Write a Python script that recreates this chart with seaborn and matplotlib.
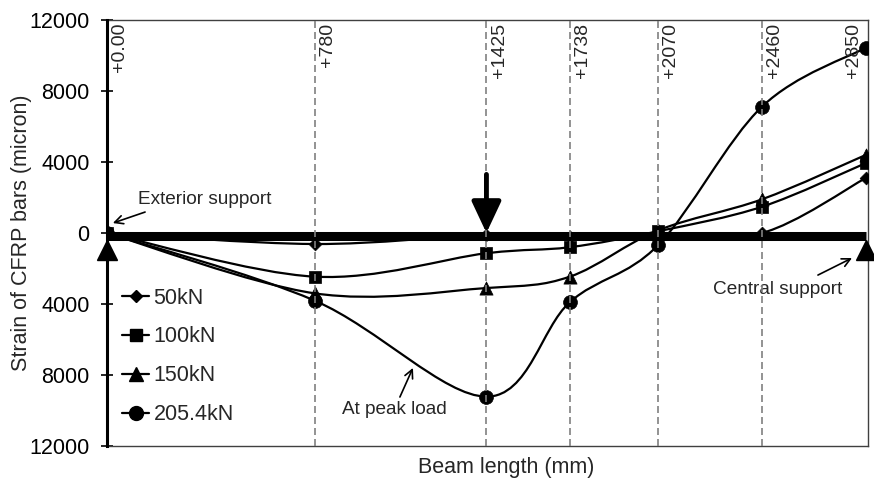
import numpy as np
import pandas as pd
import matplotlib
matplotlib.use("Agg")
import matplotlib.pyplot as plt
import seaborn as sns
from matplotlib.path import Path
from matplotlib.patches import PathPatch
from matplotlib.lines import Line2D
from matplotlib.ticker import FuncFormatter

# ---------------- data ----------------
positions = [0, 780, 1425, 1738, 2070, 2460, 2850]
position_labels = ["+0.00", "+780", "+1425", "+1738", "+2070", "+2460", "+2850"]
load_labels = ["50kN", "100kN", "150kN", "205.4kN"]
strain_50 = [0, -620, -100, -200, 0, 0, 3100]
strain_100 = [0, -2460, -1140, -800, 100, 1480, 3940]
strain_150 = [0, -3400, -3100, -2460, 150, 1900, 4400]
strain_205 = [0, -3810, -9220, -3900, -680, 7120, 10440]
y_ticks = [-12000, -8000, -4000, 0, 4000, 8000, 12000]

series = [strain_50, strain_100, strain_150, strain_205]
df = pd.DataFrame({
    "x": positions * 4,
    "strain": sum(series, []),
    "load": sum([[l] * len(positions) for l in load_labels], []),
})

marker_style = {"50kN": ("D", 6.5), "100kN": ("s", 9), "150kN": ("^", 9.5), "205.4kN": ("o", 10)}

sns.set_theme(style="white")
plt.rcParams["font.family"] = ["Liberation Sans", "DejaVu Sans"]

fig = plt.figure(figsize=(8.74, 4.8), dpi=100)
ax = fig.add_axes([107 / 874, 1 - 446 / 480, 761 / 874, 426 / 480])
ax.set_xlim(0, 2858)
ax.set_ylim(-12000, 12000)


def smooth_path(xs, ys):
    pts = np.column_stack([xs, ys]).astype(float)
    n = len(pts)
    verts = [pts[0]]
    codes = [Path.MOVETO]
    for i in range(n - 1):
        p_prev = pts[i - 1] if i > 0 else pts[i]
        p_next2 = pts[i + 2] if i + 2 < n else pts[i + 1]
        c1 = pts[i] + (pts[i + 1] - p_prev) / 6.0
        c2 = pts[i + 1] - (p_next2 - pts[i]) / 6.0
        verts += [c1, c2, pts[i + 1]]
        codes += [Path.CURVE4] * 3
    return Path(verts, codes)


# smooth curves
for lab in load_labels:
    sub = df[df["load"] == lab]
    patch = PathPatch(smooth_path(sub["x"].values, sub["strain"].values),
                      facecolor="none", edgecolor="black", lw=1.6, zorder=2)
    ax.add_patch(patch)

# beam
ax.plot([0, 2850], [-170, -170], color="black", lw=6.5, solid_capstyle="butt", zorder=3)

# markers
for lab in load_labels:
    m, ms = marker_style[lab]
    sub = df[df["load"] == lab]
    sns.scatterplot(data=sub, x="x", y="strain", marker=m, s=ms ** 2, color="black",
                    edgecolor="black", linewidth=0.5, ax=ax, zorder=5, legend=False)

# supports
ax.plot([0, 2850], [-930, -930], linestyle="none", marker="^", ms=14, color="black",
        clip_on=False, zorder=6)

# vertical dashed section lines and labels
for p, lab in zip(positions, position_labels):
    if 0 < p < 2850:
        ax.axvline(p, color="#808080", lw=1.2, linestyle=(0, (4.2, 2.4)), zorder=7)
    if p < 2850:
        ax.annotate(lab, xy=(p, 12000), xytext=(3, -2), textcoords="offset points",
                    rotation=90, ha="left", va="top", fontsize=14, zorder=8)
    else:
        ax.annotate(lab, xy=(p, 12000), xytext=(-3, -2), textcoords="offset points",
                    rotation=90, ha="right", va="top", fontsize=14, zorder=8)

# load arrow
ax.annotate("", xy=(1425, 0), xytext=(1425, 3300),
            arrowprops=dict(arrowstyle="-|>,head_length=1.6,head_width=0.75",
                            lw=3.5, color="black", shrinkA=0, shrinkB=0), zorder=8)

# annotations
arr = dict(arrowstyle="->,head_length=0.5,head_width=0.25", lw=1.2, color="black",
           shrinkA=0, shrinkB=0)
ax.annotate("", xy=(22, 560), xytext=(143, 1180), arrowprops=arr)
ax.text(116, 1860, "Exterior support", fontsize=13.7, va="center", ha="left")
ax.annotate("", xy=(2798, -1410), xytext=(2670, -2370), arrowprops=arr)
ax.text(2276, -3210, "Central support", fontsize=13.7, va="center", ha="left")
ax.annotate("", xy=(1149, -7600), xytext=(1100, -9240), arrowprops=arr)
ax.text(882, -9970, "At peak load", fontsize=13.7, va="center", ha="left")

# axes styling
ax.set_yticks(y_ticks)
ax.yaxis.set_major_formatter(FuncFormatter(lambda v, _: f"{abs(int(v))}"))
ax.set_xticks([])
ax.tick_params(axis="y", direction="inout", length=9, width=1.2, pad=8, labelsize=15.5,
               left=True, colors="black")
for s in ["top", "right", "bottom"]:
    ax.spines[s].set_color("#404040")
    ax.spines[s].set_linewidth(1.0)
ax.spines["left"].set_color("black")
ax.spines["left"].set_linewidth(2.2)
ax.spines["left"].set_zorder(9)

ax.set_xlabel("Beam length (mm)", fontsize=15.5)
ax.xaxis.set_label_coords(0.524, -0.026)
ax.set_ylabel("Strain of CFRP bars (micron)", fontsize=15.5)
ax.yaxis.set_label_coords(-0.113, 0.5)
ax.yaxis.label.set_va("center")

# legend
handles = [Line2D([0], [0], color="black", lw=1.6, marker=marker_style[l][0],
                  ms=marker_style[l][1]) for l in load_labels]
ax.legend(handles, load_labels, loc="upper left", bbox_to_anchor=(0.02, 0.372),
          frameon=False, fontsize=15.5, handlelength=1.25, handletextpad=0.2,
          labelspacing=0.83, borderpad=0, borderaxespad=0)

fig.savefig("out.png", dpi=100)
